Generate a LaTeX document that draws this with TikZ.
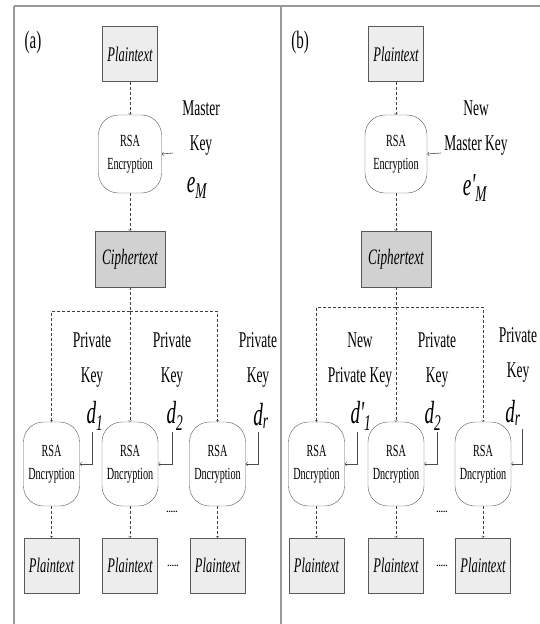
\documentclass[tikz,border=0pt]{standalone}
\usepackage{fontspec}
\usepackage{graphicx}
\setmainfont{Liberation Serif}
\newfontfamily\narrowserif[FakeStretch=0.6]{Liberation Serif}
\usetikzlibrary{arrows,positioning,calc}

% key symbol: letter, prime, subscript
\newcommand\keyname[3]{#1#2\textsubscript{#3}}

\begin{document}
\begin{tikzpicture}[x=1pt,y=-1pt,
    plainbox/.style={draw=black!65, fill=black!7, minimum width=55pt, minimum height=55pt, inner sep=0pt,
        font=\narrowserif\fontsize{20.8}{22}\selectfont\itshape},
    cipherbox/.style={plainbox, fill=black!18, minimum width=70pt, minimum height=56pt,
        font=\narrowserif\fontsize{22}{22}\selectfont\itshape},
    rsabox/.style={draw=black!65, rounded corners=20pt, minimum width=56pt, minimum height=84pt,
        inner sep=0pt, align=center, font=\narrowserif\fontsize{17}{23}\selectfont},
    keylabel/.style={align=center, inner sep=0pt, font=\narrowserif\fontsize{22.5}{35}\selectfont},
    keysym/.style={inner sep=0pt, font=\narrowserif\fontsize{32}{32}\selectfont\itshape},
    tag/.style={inner sep=0pt, font=\narrowserif\fontsize{25}{25}\selectfont},
    dots/.style={inner sep=0pt, font=\bfseries\small},
    flow/.style={->, densely dashed, black!75, thin},
    hook/.style={->, black!70, semithick},
    frame/.style={black!40, line width=1.2pt}]
    \useasboundingbox (0,0) rectangle (540,624);

    % frame of both panels
    \draw[frame] (14,6) -- (540,6);
    \draw[frame] (14,6) -- (14,624);
    \draw[frame] (281,6) -- (281,624);

    % ---------- (a) ----------
    \node[tag] (taga) at (33,42) {(a)};
    \node[plainbox] (pa) at (130,54) {Plaintext};
    \node[rsabox, minimum width=63pt, minimum height=78pt] (enca) at (130,154) {RSA\\Encryption};
    \node[cipherbox] (ca) at (130,259) {Ciphertext};
    \node[keylabel] (mka) at (201,128) {Master\\Key};
    \node[keysym] (ema) at (197,188) {\keyname{e}{}{M}};
    \coordinate (ina) at (173,153);

    \node[rsabox] (deca1) at (51.5,464) {RSA\\Dncryption};
    \node[rsabox] (deca2) at (130,464) {RSA\\Dncryption};
    \node[rsabox] (deca3) at (217.5,464) {RSA\\Dncryption};
    \node[plainbox] (pla1) at (51.5,565.5) {Plaintext};
    \node[plainbox] (pla2) at (130,565.5) {Plaintext};
    \node[plainbox] (pla3) at (217.5,565.5) {Plaintext};

    % private keys
    \node[keylabel] (pka1) at (92,360) {Private\\Key};
    \node[keylabel] (pka2) at (172,360) {Private\\Key};
    \node[keylabel] (pka3) at (258,360) {Private\\Key};
    \node[keysym] (da1) at (95,416) {\keyname{d}{}{1}};
    \node[keysym] (da2) at (175,416) {\keyname{d}{}{2}};
    \node[keysym] (da3) at (261,416) {\keyname{d}{}{r}};
    \coordinate (ka1) at (92,432);
    \coordinate (ka2) at (172,432);
    \coordinate (ka3) at (258,432);

    \node[dots] (dota1) at (172,512) {.....};
    \node[dots] (dota2) at (173,566) {.....};

    \coordinate (busa) at (130,311);
    \draw[flow] (pa) -- (enca);
    \draw[flow] (enca) -- (ca);
    \draw[hook] (ina) -- (enca.east);
    \draw[flow] (ca) -- (deca2);
    \draw[flow] (busa) -| (deca1);
    \draw[flow] (busa) -| (deca3);
    \draw[hook] (ka1) |- (deca1.east);
    \draw[hook] (ka2) |- (deca2.east);
    \draw[hook] (ka3) |- (deca3.east);
    \draw[flow] (deca1) -- (pla1);
    \draw[flow] (deca2) -- (pla2);
    \draw[flow] (deca3) -- (pla3);

    % ---------- (b) ----------
    \node[tag] (tagb) at (300,42) {(b)};
    \node[plainbox] (pb) at (396,54) {Plaintext};
    \node[rsabox, minimum width=62pt, minimum height=78pt] (encb) at (396,154) {RSA\\Encryption};
    \node[cipherbox] (cb) at (396,259) {Ciphertext};
    \node[keylabel] (mkb) at (476,128) {New\\Master Key};
    \node[keysym] (emb) at (475,188) {\keyname{e}{'}{M}};
    \coordinate (inb) at (441,153);

    \node[rsabox] (decb1) at (316.5,464) {RSA\\Dncryption};
    \node[rsabox] (decb2) at (396,464) {RSA\\Dncryption};
    \node[rsabox] (decb3) at (483,464) {RSA\\Dncryption};
    \node[plainbox] (plb1) at (316.5,565.5) {Plaintext};
    \node[plainbox] (plb2) at (396,565.5) {Plaintext};
    \node[plainbox] (plb3) at (483,565.5) {Plaintext};

    % private keys, the first one renewed
    \node[keylabel] (pkb1) at (360,360) {New\\Private Key};
    \node[keylabel] (pkb2) at (437,360) {Private\\Key};
    \node[keylabel] (pkb3) at (518,355) {Private\\Key};
    \node[keysym] (db1) at (361,416) {\keyname{d}{'}{1}};
    \node[keysym] (db2) at (433,416) {\keyname{d}{}{2}};
    \node[keysym] (db3) at (513,413) {\keyname{d}{}{r}};
    \coordinate (kb1) at (357,432);
    \coordinate (kb2) at (437,432);
    \coordinate (kb3) at (522,429);

    \node[dots] (dotb1) at (442,512) {.....};
    \node[dots] (dotb2) at (442,566) {.....};

    \coordinate (busb) at (396,307);
    \draw[flow] (pb) -- (encb);
    \draw[flow] (encb) -- (cb);
    \draw[hook] (inb) -- (encb.east);
    \draw[flow] (cb) -- (decb2);
    \draw[flow] (busb) -| (decb1);
    \draw[flow] (busb) -| (decb3);
    \draw[hook] (kb1) |- (decb1.east);
    \draw[hook] (kb2) |- (decb2.east);
    \draw[hook] (kb3) |- (decb3.east);
    \draw[flow] (decb1) -- (plb1);
    \draw[flow] (decb2) -- (plb2);
    \draw[flow] (decb3) -- (plb3);
\end{tikzpicture}
\end{document}
